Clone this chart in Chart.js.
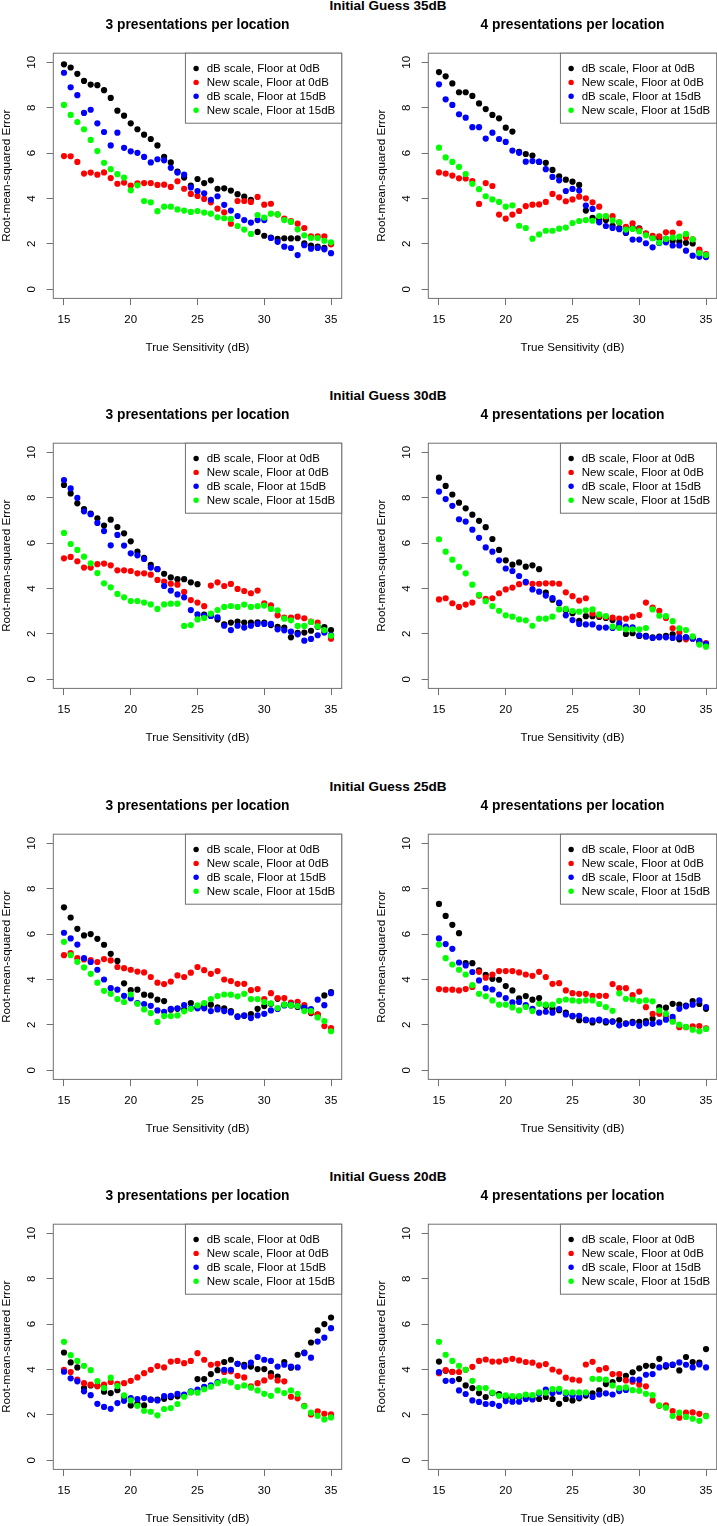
<!DOCTYPE html>
<html>
<head>
<meta charset="utf-8">
<script src="https://cdn.jsdelivr.net/npm/chart.js@4.4.1/dist/chart.umd.min.js"></script>
<style>
html,body{margin:0;padding:0;background:#fff;}
#wrap{position:relative;width:717px;height:1526px;overflow:hidden;background:#fff;}
#wrap canvas{position:absolute;}
.rt{position:absolute;left:238px;width:300px;text-align:center;font:bold 13.5px "Liberation Sans",Arial,sans-serif;line-height:16px;color:#000;white-space:nowrap;}
</style>
</head>
<body>
<div id="wrap"></div>
<script>
// ---------- data ----------
const trueSensitivity = [15,15.5,16,16.5,17,17.5,18,18.5,19,19.5,20,20.5,21,21.5,22,22.5,23,23.5,24,24.5,25,25.5,26,26.5,27,27.5,28,28.5,29,29.5,30,30.5,31,31.5,32,32.5,33,33.5,34,34.5,35];
const xTickValues = [15,20,25,30,35];
const yTickValues = [0,2,4,6,8,10];
const seriesLabels = ['dB scale, Floor at 0dB','New scale, Floor at 0dB','dB scale, Floor at 15dB','New scale, Floor at 15dB'];
const rowTitles = ['Initial Guess 35dB','Initial Guess 30dB','Initial Guess 25dB','Initial Guess 20dB'];
const panelTitles = ['3 presentations per location','4 presentations per location'];
const xAxisTitle = 'True Sensitivity (dB)';
const yAxisTitle = 'Root-mean-squared Error';

// Initial guess 35dB, 3 presentations
const ig35p3_db0  = [9.91,9.77,9.49,9.18,9.02,8.99,8.77,8.43,7.87,7.65,7.31,7.05,6.81,6.62,6.34,5.84,5.59,5.18,4.92,4.57,4.86,4.68,4.80,4.43,4.45,4.35,4.19,4.08,3.94,2.53,2.36,2.28,2.22,2.25,2.24,2.25,2.02,1.93,1.88,1.83,2.00];
const ig35p3_new0 = [5.87,5.86,5.61,5.10,5.14,5.05,5.15,4.90,4.65,4.70,4.57,4.67,4.68,4.68,4.60,4.61,4.51,4.76,4.43,4.20,4.11,3.98,3.83,3.55,3.39,2.89,3.89,3.89,3.85,4.07,3.73,3.77,3.30,3.12,3.00,2.89,2.70,2.33,2.33,2.33,1.98];
const ig35p3_db15 = [9.54,8.90,8.55,7.77,7.91,7.31,6.93,6.34,6.90,6.23,6.08,6.01,5.83,5.59,5.73,5.68,5.35,5.14,5.05,4.49,4.33,4.23,3.94,4.10,3.72,3.47,3.23,3.05,2.94,3.05,3.05,2.26,2.09,1.88,1.82,1.51,1.94,1.79,1.82,1.76,1.59];
const ig35p3_new15= [8.12,7.68,7.37,7.05,6.58,6.09,5.57,5.29,5.07,4.92,4.36,4.58,3.89,3.83,3.44,3.64,3.64,3.52,3.47,3.41,3.45,3.38,3.33,3.17,3.13,3.10,2.79,2.63,2.44,3.27,3.16,3.33,3.30,3.05,2.97,2.64,2.38,2.26,2.26,2.14,2.07];
// Initial guess 35dB, 4 presentations
const ig35p4_db0  = [9.57,9.38,9.07,8.68,8.68,8.52,8.19,7.94,7.68,7.53,7.12,6.95,6.05,5.96,5.89,5.61,5.57,5.26,4.98,4.83,4.74,4.60,3.47,3.15,3.08,3.05,2.80,2.70,2.48,2.72,2.68,2.45,2.26,2.26,2.22,2.14,2.10,2.05,2.02,1.65,1.45];
const ig35p4_new0 = [5.15,5.10,5.01,4.89,4.88,4.77,3.76,4.68,4.55,3.29,3.11,3.29,3.45,3.66,3.73,3.74,3.85,4.20,4.05,3.88,3.96,4.08,4.01,3.83,3.64,3.20,3.22,2.95,2.75,2.91,2.65,2.45,2.35,2.33,2.51,2.50,2.91,2.29,2.20,1.75,1.55];
const ig35p4_db15 = [9.03,8.37,8.12,7.71,7.56,7.14,7.14,6.64,6.90,6.62,6.49,6.11,6.01,5.62,5.65,5.62,5.29,4.95,4.80,4.33,4.42,4.35,3.69,3.54,2.95,2.79,2.70,2.65,2.50,2.19,2.19,2.03,1.85,2.04,2.07,1.93,1.93,1.70,1.48,1.43,1.42];
const ig35p4_new15= [6.24,5.81,5.61,5.39,5.08,4.65,4.41,4.10,3.96,3.85,3.64,3.70,2.80,2.70,2.23,2.42,2.58,2.58,2.67,2.72,2.92,3.01,3.05,3.02,3.23,3.23,3.04,2.95,2.63,2.66,2.56,2.38,2.25,2.06,2.22,2.28,2.32,2.44,2.20,1.59,1.51];
// Initial guess 30dB, 3 presentations
const ig30p3_db0  = [8.56,8.19,7.75,7.50,7.30,7.09,6.77,7.03,6.71,6.43,6.08,5.62,5.35,5.04,4.85,4.65,4.49,4.41,4.41,4.27,4.19,2.85,2.80,2.64,2.42,2.50,2.54,2.50,2.50,2.51,2.50,2.39,2.31,2.28,1.85,2.05,2.06,2.14,2.31,2.30,2.17];
const ig30p3_new0 = [5.33,5.39,5.20,4.92,4.92,5.07,5.10,5.02,4.80,4.80,4.77,4.67,4.67,4.61,4.38,4.30,4.21,4.17,3.85,3.49,3.38,3.22,4.13,4.27,4.11,4.20,3.98,3.89,3.79,3.91,3.35,3.26,2.82,2.72,2.72,2.76,2.69,2.54,2.50,2.15,1.79];
const ig30p3_db15 = [8.78,8.41,7.99,7.40,7.27,6.89,6.53,5.90,6.36,5.89,5.55,5.46,5.30,4.92,4.86,4.11,3.91,3.74,3.61,3.05,2.86,2.80,2.79,2.73,2.36,2.17,2.36,2.28,2.36,2.44,2.44,2.44,2.20,2.16,2.10,1.98,1.70,1.78,1.94,2.06,1.94];
const ig30p3_new15= [6.45,5.96,5.70,5.40,5.11,4.68,4.23,4.05,3.76,3.61,3.45,3.45,3.38,3.30,3.10,3.30,3.33,3.33,2.35,2.39,2.64,2.70,2.89,3.05,3.19,3.23,3.19,3.29,3.19,3.22,3.25,3.10,3.04,2.67,2.60,2.35,2.35,2.53,2.33,2.17,1.92];
// Initial guess 30dB, 4 presentations
const ig30p4_db0  = [8.88,8.52,8.14,7.78,7.53,7.25,6.98,6.70,6.18,5.70,5.24,5.05,5.15,4.96,5.02,4.85,3.82,3.51,3.35,3.04,2.91,2.58,2.78,2.78,2.75,2.70,2.61,2.32,2.00,2.03,1.91,1.91,1.85,1.88,1.91,1.98,1.76,1.85,1.80,1.65,1.51];
const ig30p4_new0 = [3.52,3.57,3.35,3.19,3.29,3.38,3.69,3.54,3.57,3.79,3.96,4.04,4.19,4.26,4.21,4.21,4.23,4.23,4.21,3.83,3.66,3.47,3.57,2.90,2.80,2.75,2.72,2.67,2.67,2.76,2.83,3.38,3.16,3.02,2.70,2.25,2.06,1.76,1.85,1.63,1.59];
const ig30p4_db15 = [8.27,7.94,7.64,7.05,6.95,6.59,6.23,5.81,5.62,5.24,4.88,4.77,4.55,4.29,3.96,3.86,3.69,3.58,3.38,2.82,2.61,2.44,2.42,2.42,2.28,2.28,2.26,2.47,2.32,2.29,1.94,1.88,1.82,1.85,1.85,1.82,1.85,1.85,1.79,1.69,1.56];
const ig30p4_new15= [6.17,5.62,5.27,4.95,4.67,4.17,3.72,3.44,3.22,3.02,2.82,2.76,2.64,2.60,2.36,2.67,2.67,2.76,3.08,3.10,3.01,2.98,3.04,3.08,2.86,2.79,2.32,2.26,2.20,2.20,2.20,2.26,3.08,2.80,2.78,2.56,2.25,2.17,1.89,1.53,1.44];
// Initial guess 25dB, 3 presentations
const ig25p3_db0  = [7.18,6.73,6.23,5.94,6.00,5.79,5.53,5.13,4.82,3.83,3.53,3.55,3.33,3.30,3.11,3.05,2.67,2.71,2.67,2.96,2.77,2.82,2.89,2.77,2.73,2.61,2.38,2.40,2.48,2.71,2.83,2.93,3.15,2.90,2.86,2.79,2.74,2.52,2.45,3.30,3.45];
const ig25p3_new0 = [5.07,5.16,4.94,4.88,4.85,4.77,4.90,4.84,4.55,4.50,4.43,4.35,4.31,4.11,3.86,3.80,3.91,4.18,4.11,4.30,4.55,4.41,4.25,4.37,4.00,3.93,3.81,3.81,3.53,3.58,3.14,3.40,3.18,3.18,2.98,3.02,2.87,2.55,2.46,1.95,1.86];
const ig25p3_db15 = [6.06,5.81,5.54,4.94,4.77,4.43,4.00,3.62,3.55,3.28,3.17,2.96,2.92,2.84,2.64,2.58,2.71,2.73,2.87,2.74,2.73,2.73,2.61,2.68,2.61,2.55,2.35,2.42,2.30,2.42,2.49,2.64,2.70,2.86,2.90,2.84,2.76,2.70,3.11,2.87,3.40];
const ig25p3_new15= [5.66,5.07,4.78,4.53,4.25,3.86,3.50,3.37,3.14,3.01,3.34,2.93,2.68,2.52,2.13,2.39,2.39,2.42,2.60,2.71,2.86,2.96,3.14,3.27,3.34,3.33,3.26,3.37,3.14,3.14,3.01,2.95,2.74,2.89,2.87,2.83,2.61,2.61,2.33,2.17,1.72];
// Initial guess 25dB, 4 presentations
const ig25p4_db0  = [7.33,6.80,6.41,6.04,4.72,4.72,4.40,4.21,4.03,3.99,3.71,3.52,3.17,3.27,3.11,3.18,2.83,2.71,2.65,2.54,2.38,2.21,2.21,2.11,2.20,2.11,2.16,2.20,2.07,2.13,2.14,2.17,2.27,2.79,2.76,2.93,2.89,2.85,3.05,2.92,2.71];
const ig25p4_new0 = [3.58,3.55,3.55,3.52,3.58,3.67,4.34,4.08,4.22,4.37,4.37,4.37,4.31,4.22,4.16,4.34,4.11,3.81,3.84,3.52,3.40,3.37,3.37,3.28,3.28,3.28,3.80,3.62,3.62,3.31,3.47,2.78,2.49,2.49,2.40,2.20,1.90,1.90,1.94,1.95,1.85];
const ig25p4_db15 = [5.81,5.56,5.35,4.75,4.62,4.33,3.96,3.62,3.56,3.34,3.18,2.99,3.01,2.87,2.71,2.54,2.58,2.54,2.70,2.46,2.40,2.40,2.23,2.20,2.23,2.17,2.14,1.98,2.05,2.08,1.96,2.07,2.05,2.11,2.23,2.35,2.71,2.82,2.89,3.08,2.79];
const ig25p4_new15= [5.54,4.94,4.66,4.43,4.22,3.75,3.37,3.26,3.08,2.89,2.89,2.77,2.64,2.79,2.61,2.93,2.89,2.89,3.06,3.12,3.08,3.05,3.08,3.08,2.92,2.79,2.62,3.39,3.15,3.12,3.05,3.08,3.04,2.64,2.49,2.14,2.01,1.91,1.79,1.72,1.82];
// Initial guess 20dB, 3 presentations
const ig20p3_db0  = [4.75,4.31,4.09,3.18,3.30,3.28,3.02,2.96,3.09,2.80,2.42,2.50,2.42,2.67,2.67,2.71,2.78,2.82,2.85,3.00,3.58,3.58,3.80,3.97,4.33,4.43,4.25,4.20,4.13,4.02,4.02,3.84,3.69,4.33,4.08,4.65,4.75,5.19,5.72,6.00,6.29];
const ig20p3_new0 = [3.99,3.89,3.55,3.40,3.33,3.26,3.33,3.45,3.37,3.40,3.50,3.65,3.84,3.99,4.15,4.09,4.35,4.38,4.28,4.38,4.72,4.43,4.21,4.25,3.89,3.92,3.72,3.65,3.26,3.40,3.52,3.69,3.52,3.48,2.80,2.73,2.40,2.02,2.16,2.05,2.02];
const ig20p3_db15 = [3.90,3.61,3.48,3.04,2.87,2.49,2.35,2.27,2.52,2.62,2.74,2.70,2.74,2.67,2.64,2.83,2.84,2.93,2.89,3.04,3.12,3.24,3.30,3.45,3.99,3.99,4.25,4.13,4.30,4.55,4.43,4.38,4.13,4.21,4.13,4.09,4.72,4.52,5.23,5.40,5.82];
const ig20p3_new15= [5.22,4.63,4.38,4.16,3.97,3.49,3.18,3.64,3.27,2.86,2.64,2.40,2.18,2.14,1.98,2.26,2.30,2.48,2.80,3.00,2.98,3.13,3.24,3.40,3.50,3.43,3.23,3.30,3.20,3.08,2.93,2.84,3.08,2.96,3.08,2.93,2.38,2.10,1.96,1.80,1.89];
// Initial guess 20dB, 4 presentations
const ig20p4_db0  = [4.35,3.95,3.90,3.58,3.30,3.18,2.96,2.79,2.96,2.92,2.77,2.76,2.79,2.74,2.74,2.70,2.79,2.70,2.49,2.70,2.64,2.73,2.85,2.95,3.08,3.36,3.45,3.58,3.72,3.88,4.05,4.16,4.16,4.47,4.13,4.20,3.96,4.55,4.33,4.30,4.90];
const ig20p4_new0 = [3.84,3.97,3.89,3.89,3.99,4.12,4.38,4.44,4.35,4.35,4.41,4.47,4.40,4.33,4.30,4.18,4.24,4.00,3.91,3.64,3.56,3.52,4.22,4.34,3.99,4.06,3.80,3.80,3.52,3.46,3.33,3.26,2.64,2.40,2.42,2.17,1.88,2.10,2.11,2.05,1.96];
const ig20p4_db15 = [3.89,3.50,3.50,3.08,2.92,2.64,2.57,2.48,2.49,2.40,2.61,2.58,2.58,2.70,2.68,2.93,3.11,2.96,3.02,2.93,2.87,2.79,2.93,2.79,2.90,2.95,2.90,3.05,3.10,3.55,3.55,3.77,3.80,4.09,4.19,4.22,4.31,4.21,4.09,4.22,4.09];
const ig20p4_new15= [5.22,4.65,4.38,4.16,3.99,3.50,3.18,3.18,2.98,2.84,2.86,2.83,2.83,2.89,2.87,2.99,2.98,3.14,3.15,2.99,2.99,2.99,2.99,3.59,3.58,3.55,3.30,3.18,3.21,3.09,3.06,2.93,2.87,2.42,2.32,1.95,2.10,1.91,1.83,1.74,1.94];

// ---------- styling / layout (kept separate from data) ----------
const seriesColors = ['#000000','#ff0000','#0000ff','#00ff00'];
const FONT = '"Liberation Sans", Arial, Helvetica, sans-serif';
const AXIS_COLOR = '#707070';
const CANVAS_W = 375, CANVAS_H = 360;
const rowTopsCanvas = [0, 390, 781, 1171];
const rowTitleCenters = [5.5, 396, 786.5, 1176.5];
const colLefts = [-17, 358];

const panels = [
  {row:0,col:0,series:[ig35p3_db0,ig35p3_new0,ig35p3_db15,ig35p3_new15]},
  {row:0,col:1,series:[ig35p4_db0,ig35p4_new0,ig35p4_db15,ig35p4_new15]},
  {row:1,col:0,series:[ig30p3_db0,ig30p3_new0,ig30p3_db15,ig30p3_new15]},
  {row:1,col:1,series:[ig30p4_db0,ig30p4_new0,ig30p4_db15,ig30p4_new15]},
  {row:2,col:0,series:[ig25p3_db0,ig25p3_new0,ig25p3_db15,ig25p3_new15]},
  {row:2,col:1,series:[ig25p4_db0,ig25p4_new0,ig25p4_db15,ig25p4_new15]},
  {row:3,col:0,series:[ig20p3_db0,ig20p3_new0,ig20p3_db15,ig20p3_new15]},
  {row:3,col:1,series:[ig20p4_db0,ig20p4_new0,ig20p4_db15,ig20p4_new15]}
];

Chart.defaults.font.family = FONT;
Chart.defaults.color = '#000';
Chart.defaults.animation = false;

// box around the plot region (R's box())
const boxPlugin = {
  id: 'rBox',
  afterDatasetsDraw(chart) {
    const {ctx, chartArea: a} = chart;
    ctx.save();
    ctx.strokeStyle = AXIS_COLOR;
    ctx.lineWidth = 1;
    ctx.strokeRect(a.left, a.top, a.right - a.left, a.bottom - a.top);
    ctx.restore();
  }
};

// legend drawn inside the plot region, top-right (R's legend("topright"))
const legendPlugin = {
  id: 'rLegend',
  afterDraw(chart) {
    const {ctx, chartArea: a} = chart;
    const ds = chart.data.datasets;
    ctx.save();
    ctx.font = '11.5px ' + FONT;
    let maxW = 0;
    ds.forEach(d => { maxW = Math.max(maxW, ctx.measureText(d.label).width); });
    const w = 21.3 + maxW + 6.5, h = 70;
    const x = a.right - w, y = a.top;
    ctx.fillStyle = '#fff';
    ctx.fillRect(x, y, w, h);
    ctx.strokeStyle = AXIS_COLOR;
    ctx.lineWidth = 1;
    ctx.strokeRect(x, y, w, h);
    ds.forEach((d, i) => {
      const cy = y + 15.3 + i * 13.9;
      ctx.fillStyle = d.backgroundColor;
      ctx.beginPath();
      ctx.arc(x + 10.7, cy, 2.7, 0, Math.PI * 2);
      ctx.fill();
      ctx.fillStyle = '#000';
      ctx.textAlign = 'left';
      ctx.textBaseline = 'middle';
      ctx.fillText(d.label, x + 21.3, cy + 0.5);
    });
    ctx.restore();
  }
};

const wrap = document.getElementById('wrap');

rowTitles.forEach((t, r) => {
  const d = document.createElement('div');
  d.className = 'rt';
  d.style.top = (rowTitleCenters[r] - 8) + 'px';
  d.textContent = t;
  wrap.appendChild(d);
});

panels.forEach(p => {
  const cv = document.createElement('canvas');
  cv.width = CANVAS_W; cv.height = CANVAS_H;
  cv.style.width = CANVAS_W + 'px'; cv.style.height = CANVAS_H + 'px';
  cv.style.left = colLefts[p.col] + 'px';
  cv.style.top = rowTopsCanvas[p.row] + 'px';
  wrap.appendChild(cv);

  const datasets = p.series.map((vals, i) => ({
    label: seriesLabels[i],
    data: trueSensitivity.map((x, k) => ({x: x, y: vals[k]})),
    backgroundColor: seriesColors[i],
    pointBackgroundColor: seriesColors[i],
    pointBorderWidth: 0,
    pointRadius: 3.1,
    pointHoverRadius: 3.1,
    showLine: false,
    order: 4 - i
  }));

  new Chart(cv, {
    type: 'scatter',
    data: {datasets},
    plugins: [boxPlugin, legendPlugin],
    options: {
      responsive: false,
      devicePixelRatio: 1,
      animation: false,
      events: [],
      layout: {padding: {left: 0, top: 0, right: 16.3, bottom: 3.6}},
      plugins: {
        legend: {display: false},
        tooltip: {enabled: false},
        title: {
          display: true,
          text: panelTitles[p.col],
          fullSize: false,
          color: '#000',
          font: {family: FONT, size: 13.8, weight: 'bold', lineHeight: 1.2},
          padding: {top: 16.72, bottom: 19.92}
        }
      },
      scales: {
        x: {
          type: 'linear',
          position: 'bottom',
          min: 14.2, max: 35.8,
          afterBuildTicks: s => { s.ticks = xTickValues.map(v => ({value: v})); },
          afterFit: s => { s.height = 58; },
          border: {display: false},
          grid: {display: true, drawOnChartArea: false, drawTicks: true, tickLength: 6.7, color: AXIS_COLOR, lineWidth: 1},
          ticks: {color: '#000', font: {family: FONT, size: 11.5, lineHeight: 1.2}, padding: 8.1, maxRotation: 0, minRotation: 0, autoSkip: false},
          title: {display: true, text: xAxisTitle, color: '#000', font: {family: FONT, size: 11.6, lineHeight: 1.2}, padding: {top: 0, bottom: 1.34}}
        },
        y: {
          type: 'linear',
          position: 'left',
          min: -0.4, max: 10.4,
          afterBuildTicks: s => { s.ticks = yTickValues.map(v => ({value: v})); },
          afterFit: s => { s.width = 70.3; },
          border: {display: false},
          grid: {display: true, drawOnChartArea: false, drawTicks: true, tickLength: 6.7, color: AXIS_COLOR, lineWidth: 1},
          ticks: {color: '#000', font: {family: FONT, size: 11.5, lineHeight: 1.2}, padding: 7.9, minRotation: 90, maxRotation: 90, crossAlign: 'center', autoSkip: false},
          title: {display: true, text: yAxisTitle, color: '#000', font: {family: FONT, size: 11.6, lineHeight: 1.2}, padding: {top: 17.04, bottom: 0}}
        }
      }
    }
  });
});
</script>
</body>
</html>
